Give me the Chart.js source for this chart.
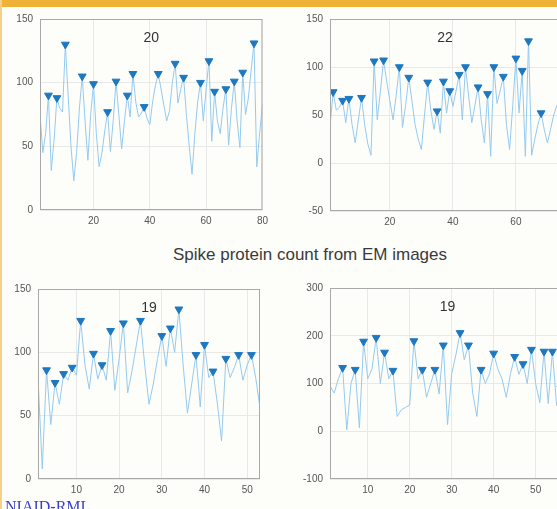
<!DOCTYPE html>
<html>
<head>
<meta charset="utf-8">
<script src="https://cdn.jsdelivr.net/npm/chart.js@4.4.0/dist/chart.umd.min.js"></script>
<style>
  html, body { margin: 0; padding: 0; width: 557px; height: 509px; overflow: hidden; background: #fdfdfa; font-family: "Liberation Sans", Arial, sans-serif; }
  #bar { position: absolute; left: 0; top: 0; width: 557px; height: 7px; background: #efb236; }
  #edge { position: absolute; left: 0; top: 0; width: 2px; height: 509px; background: #f5d088; }
  .box { position: absolute; }
  #title { position: absolute; left: 0; top: 245px; width: 620px; text-align: center; font-size: 17px; color: #3a3a3a; }
  #logo { position: absolute; left: 5px; top: 499px; font-family: "Liberation Serif", "Times New Roman", serif; font-size: 16px; color: #3b3fc8; line-height: 1; }
</style>
</head>
<body>
<div id="bar"></div>
<div id="edge"></div>
<div class="box" style="left:4px; top:6px; width:269px; height:224px;"><canvas id="c20"></canvas></div>
<div class="box" style="left:294px; top:6px; width:276px; height:225px;"><canvas id="c22"></canvas></div>
<div class="box" style="left:2px; top:276px; width:268px; height:223px;"><canvas id="c19a"></canvas></div>
<div class="box" style="left:294px; top:275px; width:281px; height:224px;"><canvas id="c19b"></canvas></div>
<div id="title">Spike protein count from EM images</div>
<div id="logo">NIAID-RML</div>

<script>
// spike counts per particle
var counts20 = [75, 45, 60, 90, 31, 55, 88, 80, 77, 130, 90, 50, 23, 45, 80, 105, 70, 39, 75, 99,
  60, 34, 45, 62, 77, 46, 70, 101, 75, 48, 70, 90, 73, 107, 85, 73, 76, 81, 72, 67,
  85, 98, 107, 95, 82, 70, 78, 100, 115, 84, 95, 104, 75, 50, 28, 60, 85, 100, 70, 95,
  117, 54, 93, 70, 60, 80, 95, 51, 80, 101, 70, 49, 108, 75, 88, 110, 131, 34, 60, 83];
var counts22 = [38, 74, 55, 58, 65, 42, 67, 40, 21, 45, 68, 40, 20, 8, 106, 45, 75, 107, 85, 65,
  45, 70, 100, 37, 60, 89, 65, 40, 25, 14, 50, 84, 55, 35, 54, 31, 85, 52, 75, 59,
  75, 92, 45, 100, 70, 42, 60, 79, 45, 21, 72, 7, 100, 62, 75, 90, 40, 14, 60, 109,
  52, 96, 7, 127, 8, 25, 40, 52, 35, 21, 35, 50, 60, 65];
var counts19a = [80, 8, 86, 43, 76, 59, 83, 78, 88, 82, 125, 90, 71, 99, 79, 90, 78, 117, 70, 95,
  123, 68, 85, 105, 125, 90, 59, 75, 95, 113, 89, 119, 100, 134, 90, 52, 75, 98, 57, 106,
  80, 85, 60, 30, 95, 80, 88, 98, 78, 90, 98, 80, 56];
var counts19b = [95, 80, 110, 133, 3, 100, 129, 7, 188, 110, 130, 196, 100, 165, 110, 127, 31, 45, 50, 55,
  189, 110, 129, 71, 100, 129, 78, 180, 14, 120, 160, 206, 150, 180, 80, 31, 129, 100, 120, 163,
  130, 110, 71, 120, 156, 119, 141, 100, 171, 100, 60, 167, 58, 167, 54, 90, 40];

var xTicks20 = [20, 40, 60, 80];
var xTicks22 = [20, 40, 60];
var xTicks19 = [10, 20, 30, 40, 50];
var yTicks20 = [0, 50, 100, 150];
var yTicks22 = [-50, 0, 50, 100, 150];
var yTicks19a = [0, 50, 100, 150];
var yTicks19b = [-100, 0, 100, 200, 300];

// draws the full box and the panel label inside the plot
var panelPlugin = {
  id: "panel",
  afterDraw: function (chart) {
    var a = chart.chartArea;
    var ctx = chart.ctx;
    ctx.save();
    ctx.strokeStyle = "#a9a9a9";
    ctx.lineWidth = 1;
    ctx.strokeRect(a.left + 0.5, a.top + 0.5, a.right - a.left - 1, a.bottom - a.top - 1);
    ctx.fillStyle = "#333";
    ctx.font = "14px 'Liberation Sans', Arial, sans-serif";
    ctx.textAlign = "center";
    ctx.textBaseline = "middle";
    ctx.fillText(chart.options.plugins.panel.text, (a.left + a.right) / 2, a.top + 19);
    ctx.restore();
  }
};

function makeChart(id, label, counts, xMax, xTicks, yTicks) {
  var line = counts.map(function (v, i) { return { x: i + 1, y: v }; });
  // local maxima, like findpeaks
  var peaks = [];
  for (var i = 1; i < counts.length - 1; i++) {
    if (counts[i] > counts[i - 1] && counts[i] > counts[i + 1]) {
      peaks.push({ x: i + 1, y: counts[i] });
    }
  }
  var tickFont = { family: "'Liberation Sans', Arial, sans-serif", size: 10 };
  new Chart(document.getElementById(id), {
    type: "line",
    data: {
      datasets: [
        {
          data: peaks,
          showLine: false,
          pointStyle: "triangle",
          pointRotation: 180,
          pointRadius: 4.5,
          pointBackgroundColor: "#1d78c0",
          pointBorderColor: "#1d78c0",
          pointBorderWidth: 1
        },
        {
          data: line,
          borderColor: "#95caee",
          borderWidth: 1,
          pointRadius: 0,
          tension: 0
        }
      ]
    },
    options: {
      responsive: true,
      maintainAspectRatio: false,
      animation: false,
      layout: { padding: { top: 8, right: 10, left: 0, bottom: 0 } },
      plugins: {
        legend: { display: false },
        tooltip: { enabled: false },
        panel: { text: label }
      },
      scales: {
        x: {
          type: "linear",
          min: 1,
          max: xMax,
          afterBuildTicks: function (s) { s.ticks = xTicks.map(function (v) { return { value: v }; }); },
          afterFit: function (s) { s.height = 20; },
          grid: { color: "#e9e9e9", drawTicks: false },
          border: { display: false },
          ticks: { font: tickFont, color: "#555", padding: 5, maxRotation: 0, autoSkip: false }
        },
        y: {
          min: yTicks[0],
          max: yTicks[yTicks.length - 1],
          afterBuildTicks: function (s) { s.ticks = yTicks.map(function (v) { return { value: v }; }); },
          afterFit: function (s) { s.width = 36; },
          grid: { color: "#e9e9e9", drawTicks: false },
          border: { display: false },
          ticks: { font: tickFont, color: "#555", padding: 7 }
        }
      }
    },
    plugins: [panelPlugin]
  });
}

makeChart("c20", "20", counts20, 80, xTicks20, yTicks20);
makeChart("c22", "22", counts22, 74, xTicks22, yTicks22);
makeChart("c19a", "19", counts19a, 53, xTicks19, yTicks19a);
makeChart("c19b", "19", counts19b, 57, xTicks19, yTicks19b);
</script>
</body>
</html>
